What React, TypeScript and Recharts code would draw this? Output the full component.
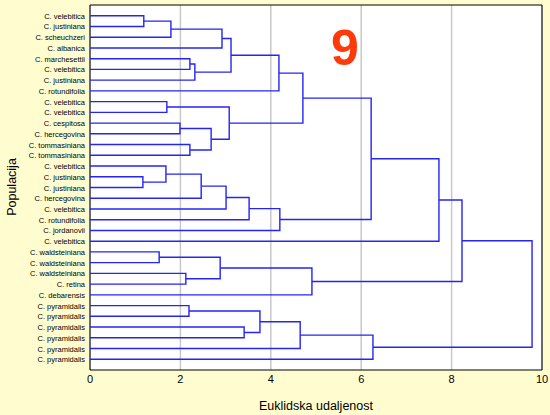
import { ScatterChart, Scatter, XAxis, YAxis, CartesianGrid } from 'recharts'

const leafLabels = [
  'C. velebitica', 'C. justiniana', 'C. scheuchzeri', 'C. albanica',
  'C. marchesettii', 'C. velebitica', 'C. justiniana', 'C. rotundifolia',
  'C. velebitica', 'C. velebitica', 'C. cespitosa', 'C. hercegovina',
  'C. tommasiniana', 'C. tommasiniana', 'C. velebitica', 'C. justiniana',
  'C. justiniana', 'C. hercegovina', 'C. velebitica', 'C. rotundifolia',
  'C. jordanovii', 'C. velebitica', 'C. waldsteiniana', 'C. waldsteiniana',
  'C. waldsteiniana', 'C. retina', 'C. debarensis', 'C. pyramidalis',
  'C. pyramidalis', 'C. pyramidalis', 'C. pyramidalis', 'C. pyramidalis',
  'C. pyramidalis',
]

// node ids: leaves are 0..32, merge k creates node 33 + k
const mergePairs: [number, number][] = [
  [0, 1], [33, 2], [34, 3], [4, 5], [36, 6], [35, 37], [38, 7],
  [8, 9], [10, 11], [12, 13], [41, 42], [40, 43], [39, 44],
  [15, 16], [14, 46], [47, 17], [48, 18], [49, 19], [50, 20],
  [45, 51], [52, 21],
  [22, 23], [24, 25], [54, 55], [56, 26], [53, 57],
  [27, 28], [29, 30], [59, 60], [61, 31], [62, 32], [58, 63],
]

const mergeHeights = [
  1.19, 1.79, 2.92, 2.21, 2.32, 3.12, 4.18,
  1.70, 1.99, 2.21, 2.68, 3.08, 4.71,
  1.17, 1.68, 2.46, 3.01, 3.52, 4.20,
  6.22, 7.72,
  1.53, 2.12, 2.88, 4.91, 8.23,
  2.19, 3.41, 3.76, 4.65, 6.26, 9.78,
]

const xTicks = [0, 2, 4, 6, 8, 10]
const xMinorTicks = [0, 1, 2, 3, 4, 5, 6, 7, 8, 9, 10]
const leafTicks = leafLabels.map((_, i) => i)

const LINE = '#2424f4'

// each merge is drawn as a bracket: child a -> height -> child b
function buildLinks() {
  const nodeX = leafLabels.map(() => 0)
  const nodeY = leafLabels.map((_, i) => i)
  return mergePairs.map(([a, b], k) => {
    const h = mergeHeights[k]
    const pts = [
      { x: nodeX[a], y: nodeY[a] },
      { x: h, y: nodeY[a] },
      { x: h, y: nodeY[b] },
      { x: nodeX[b], y: nodeY[b] },
    ]
    nodeX.push(h)
    nodeY.push((nodeY[a] + nodeY[b]) / 2)
    return pts
  })
}

const links = buildLinks()

// plain text so the labels never wrap
function LeafTick(props: any) {
  const { x, y, payload } = props
  return (
    <text x={x} y={y} dy={3} textAnchor="end" fontSize={7.5} fill="#000">
      {leafLabels[payload.value] ?? ''}
    </text>
  )
}

export default function App() {
  return (
    <div
      style={{
        position: 'absolute',
        left: 0,
        top: 0,
        width: 550,
        height: 415,
        background: '#fffdd0',
        fontFamily: '"Liberation Sans", Arial, sans-serif',
      }}
    >
      <ScatterChart width={550} height={415} margin={{ top: 5, right: 8, bottom: 0, left: 0 }}>
        <CartesianGrid horizontal={false} stroke="#c8c8c8" strokeWidth={1.5} fill="#ffffff" />
        <XAxis
          type="number"
          dataKey="x"
          domain={[0, 10]}
          ticks={xTicks}
          allowDataOverflow
          height={45}
          tickSize={3}
          tickLine={false}
          axisLine={{ stroke: '#000' }}
          tick={{ fontSize: 11, fill: '#000' }}
          label={{ value: 'Euklidska udaljenost', position: 'insideBottom', offset: 5, fontSize: 12.5, fill: '#000' }}
        />
        <XAxis
          xAxisId="top"
          orientation="top"
          mirror
          type="number"
          domain={[0, 10]}
          ticks={xMinorTicks}
          allowDataOverflow
          tick={false}
          tickSize={3}
          tickLine={{ stroke: '#333' }}
          axisLine={{ stroke: '#000' }}
        />
        <XAxis
          xAxisId="minor"
          orientation="bottom"
          mirror
          type="number"
          domain={[0, 10]}
          ticks={xMinorTicks}
          allowDataOverflow
          tick={false}
          tickSize={3}
          tickLine={{ stroke: '#333' }}
          axisLine={false}
        />
        <YAxis
          type="number"
          dataKey="y"
          domain={[-1, 33]}
          reversed
          ticks={leafTicks}
          interval={0}
          allowDataOverflow
          width={90}
          tickSize={3}
          tickLine={false}
          axisLine={{ stroke: '#000' }}
          tick={<LeafTick />}
        />
        <YAxis
          yAxisId="r"
          orientation="right"
          mirror
          type="number"
          domain={[-1, 33]}
          reversed
          ticks={leafTicks}
          interval={0}
          allowDataOverflow
          tick={false}
          tickSize={4}
          tickLine={{ stroke: '#333' }}
          axisLine={{ stroke: '#000' }}
        />
        {links.map((pts, i) => (
          <Scatter
            key={i}
            data={pts}
            line={{ stroke: LINE, strokeWidth: 1.4 }}
            lineType="joint"
            shape={() => <g />}
            isAnimationActive={false}
          />
        ))}
      </ScatterChart>
      <div
        style={{
          position: 'absolute',
          left: 12,
          top: 187,
          transform: 'translate(-50%, -50%) rotate(-90deg)',
          fontSize: 12.5,
          color: '#000',
          whiteSpace: 'nowrap',
        }}
      >
        Populacija
      </div>
      <div
        style={{
          position: 'absolute',
          left: 345,
          top: 48,
          transform: 'translate(-50%, -50%)',
          fontSize: 50,
          fontWeight: 'bold',
          color: '#ff3a0a',
          lineHeight: 1,
        }}
      >
        9
      </div>
    </div>
  )
}
